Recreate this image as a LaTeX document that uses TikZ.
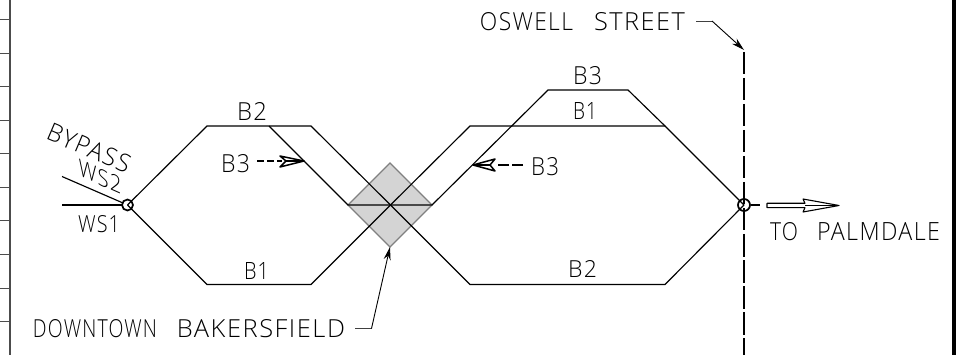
\documentclass[tikz,border=0pt]{standalone}
\usepackage{graphicx}
\usepackage{fontspec}
\newfontfamily\cadfont[LetterSpace=6]{Open Sans Light}
\usetikzlibrary{arrows.meta}
\newcommand{\cadtext}[3]{\resizebox{#1pt}{#2pt}{\cadfont #3}}
\tikzset{
  road/.style={draw=black,line width=1.15pt,line join=miter},
  label/.style={inner sep=0pt,outer sep=0pt,text=black},
  leader/.style={draw=black!75,line width=0.9pt},
  leadarrow/.style={draw=black,line width=0.9pt,-{Stealth[length=13pt,width=7pt]}},
  frame/.style={draw=black!70,line width=1.4pt},
  tick/.style={draw=black!70,line width=0.9pt},
  hollowhead/.style={draw=black,line width=1.1pt,line join=round},
}
\begin{document}
\begin{tikzpicture}[x=1pt,y=-1pt]
\useasboundingbox (0,0) rectangle (960,355);
\fill[white] (0,0) rectangle (960,355);
% frame
\coordinate (ft) at (10,0); \coordinate (fb) at (10,355);
\draw[frame] (ft) -- (fb);
\foreach \y in {19.5,53,86.5,120,153.5,187,220.5,254.5,288,321.5}
  \draw[tick] (0,\y) -- (10,\y);
\coordinate (rt) at (954,0); \coordinate (rb) at (954,355);
\draw[draw=black,line width=4pt] (rt) -- (rb);
% diamond
\path[draw=black!50,fill=black!17,line width=1.1pt] (390,163) -- (432,205) -- (390,247) -- (348,205) -- cycle;
% junctions and bends
\coordinate (W) at (127.5,205);
\coordinate (E) at (744,205);
\coordinate (X) at (390.5,205);
\coordinate (a) at (207,126);
\coordinate (b) at (311,126);
\coordinate (c) at (207,284.5);
\coordinate (d) at (311,284.5);
\coordinate (e) at (470,126);
\coordinate (f) at (665,126);
\coordinate (g) at (470,284.5);
\coordinate (h) at (665,284.5);
\coordinate (i) at (269,126);
\coordinate (j) at (348,205);
\coordinate (k) at (432,205);
\coordinate (l) at (548,90);
\coordinate (m) at (628,90);
\coordinate (ws1) at (62,205);
\coordinate (ws2) at (62,176.5);
\draw[road] (W) -- (a) -- (b) -- (X) -- (g) -- (h) -- (E);
\draw[road] (W) -- (c) -- (d) -- (X) -- (e) -- (f) -- (E);
\draw[road] (i) -- (j) -- (k) -- (l) -- (m) -- (f);
\draw[road] (ws1) -- (123,205);
\draw[road] (ws2) -- (123,203);
% street
\coordinate (st) at (744,52); \coordinate (sb) at (744,355);
\draw[draw=black,line width=1.1pt,dash pattern=on 22.5pt off 3.5pt] (st) -- (sb);
% circles
\node[draw=black,circle,line width=1.7pt,minimum size=11pt,inner sep=0pt] (nw) at (W) {};
\node[draw=black,circle,line width=1.7pt,minimum size=12pt,inner sep=0pt] (ne) at (E) {};
\draw[road] (ne.east) -- ++(9,0);
% to palmdale arrow
\coordinate (p0) at (767,205.5); \coordinate (p1) at (839,205.5);
\draw[hollowhead] (p0)++(0,-2.2) -- (805,203.3) -- (803,199) -- (p1) -- (803,212) -- (805,207.7) -- (767,207.7) -- cycle;
\draw[draw=black,line width=0.8pt] (805,205.5) -- (p1);
% B3 left pointer
\coordinate (ql) at (257,161); \coordinate (qt) at (304,161);
\draw[road,dash pattern=on 7pt off 3pt] (ql) -- (282,161);
\draw[hollowhead,line width=1.5pt] (qt) -- (280,156) -- (286,161) -- (280,167) -- cycle;
\draw[road] (286,161) -- (qt);
% B3 right pointer
\coordinate (rl) at (523,165); \coordinate (rt2) at (473,165);
\draw[road,dash pattern=on 11pt off 3pt] (rl) -- (496,165);
\draw[hollowhead,line width=1.5pt] (rt2) -- (495,159) -- (490,165) -- (495,171) -- cycle;
\draw[road] (490,165) -- (rt2);
% leaders
\coordinate (o0) at (696,21); \coordinate (o1) at (712,21); \coordinate (o2) at (744,50);
\draw[leader] (o0) -- (o1);
\draw[leadarrow] (o1) -- (o2);
\coordinate (dt0) at (355,328.5); \coordinate (dt1) at (371.5,328.5); \coordinate (dt2) at (390,247);
\draw[leader] (dt0) -- (dt1);
\draw[leadarrow] (dt1) -- (dt2);
% labels
\node[label] (t1) at (582.5,21.5) {\cadtext{93}{18}{OSWELL}\hspace*{21pt}\cadtext{91}{18}{STREET}};
\node[label] (t2) at (252,112) {\cadtext{30}{18}{B2}};
\node[label] (t3) at (235.5,163.5) {\cadtext{29}{18}{B3}};
\node[label,rotate=-23] (t4) at (89,148) {\cadtext{88}{18}{BYPASS}};
\node[label,shift={(100,177)},yslant=-0.44,transform shape] (t5) at (0,0) {\cadtext{43}{17}{WS2}};
\node[label] (t6) at (99,224) {\cadtext{42}{17}{WS1}};
\node[label] (t7) at (256.5,271) {\cadtext{25}{17}{B1}};
\node[label] (t8) at (189,328.5) {\cadtext{124}{18}{DOWNTOWN}\hspace*{20pt}\cadtext{168}{18}{BAKERSFIELD}};
\node[label] (t9) at (587.5,75.5) {\cadtext{29}{18}{B3}};
\node[label] (t10) at (585,111) {\cadtext{24}{17}{B1}};
\node[label] (t11) at (545,166.5) {\cadtext{28}{18}{B3}};
\node[label] (t12) at (582.5,269) {\cadtext{29}{17}{B2}};
\node[label] (t13) at (855,231.5) {\cadtext{28}{18}{TO}\hspace*{19pt}\cadtext{123}{18}{PALMDALE}};
\end{tikzpicture}
\end{document}
